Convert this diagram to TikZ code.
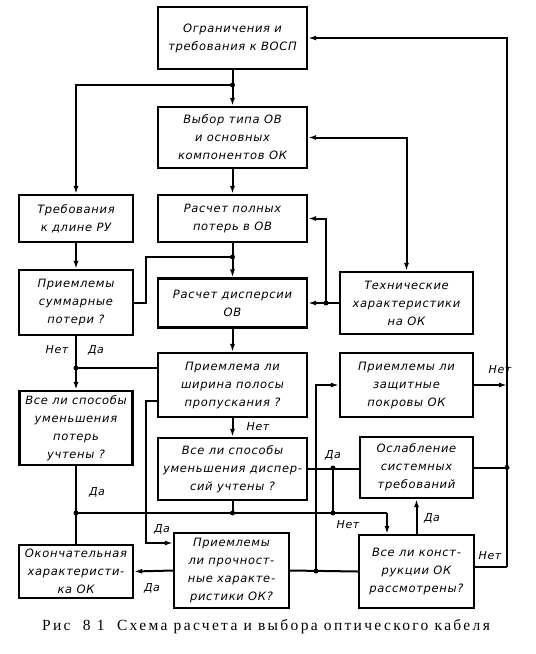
\documentclass[tikz,border=0pt]{standalone}
\usepackage{fontspec}
\setmainfont{Liberation Serif}
\newfontfamily\boxfont[LetterSpace=6]{DejaVu Sans Oblique}
\newfontfamily\capfont[LetterSpace=15]{Liberation Serif}
\usetikzlibrary{arrows.meta}
\begin{document}
\begin{tikzpicture}[x=1pt,y=-1pt,
  box/.style={draw,line width=2.2pt,inner sep=0pt,align=center,
    font=\boxfont\fontsize{11.5}{18}\selectfont},
  line/.style={line width=2pt},
  arr/.style={line width=2pt,-{Latex[length=8pt,width=5pt]}},
  dot/.style={circle,fill,inner sep=0pt,minimum size=5pt},
  lbl/.style={font=\boxfont\fontsize{11}{13}\selectfont}]
\useasboundingbox (0,0) rectangle (536,654);
\node[box,minimum width=149,minimum height=62] (ogr) at (232.5,38) {Ограничения и\\требования к ВОСП};
\node[box,minimum width=149,minimum height=61] (vybor) at (232.5,137.5) {Выбор типа ОВ\\и основных\\компонентов ОК};
\node[box,minimum width=114,minimum height=47] (dlina) at (76,218.5) {Требования\\к длине РУ};
\node[box,minimum width=149,minimum height=47] (poteri) at (232.5,218.5) {Расчет полных\\потерь в ОВ};
\node[box,minimum width=114,minimum height=65] (summ) at (76,302.5) {Приемлемы\\суммарные\\потери ?};
\node[box,minimum width=149,minimum height=49] (disp) at (232.5,303) {Расчет дисперсии\\ОВ};
\node[box,minimum width=133,minimum height=62] (tekh) at (406.5,303) {Технические\\характеристики\\на ОК};
\node[box,minimum width=149,minimum height=64] (polosa) at (232.5,385) {Приемлема ли\\ширина полосы\\пропускания ?};
\node[box,minimum width=133,minimum height=64] (pokr) at (406.5,385) {Приемлемы ли\\защитные\\покровы ОК};
\node[box,minimum width=113,minimum height=74] (vsepot) at (76,428) {Все ли способы\\уменьшения\\потерь\\учтены ?};
\node[box,minimum width=149,minimum height=62] (vsedisp) at (232.5,469) {Все ли способы\\уменьшения диспер-\\сий учтены ?};
\node[box,minimum width=113,minimum height=61] (oslab) at (416.5,467.5) {Ослабление\\системных\\требований};
\node[box,minimum width=114,minimum height=53] (okonch) at (76,571.5) {Окончательная\\характеристи-\\ка ОК};
\node[box,minimum width=115,minimum height=75] (prochn) at (231.5,570.5) {Приемлемы\\ли прочност-\\ные характе-\\ристики ОК?};
\node[box,minimum width=115,minimum height=73] (konstr) at (416.5,571.5) {Все ли конст-\\рукции ОК\\рассмотрены?};

\coordinate (j1) at (232.5,85);
\coordinate (j2) at (232.5,257);
\coordinate (j3) at (326,303);
\coordinate (j4) at (76,368);
\coordinate (j5) at (146,401);
\coordinate (j6) at (146,543);
\coordinate (j7) at (76,513);
\coordinate (j8) at (387,513);
\coordinate (j9) at (333,468);
\coordinate (j10) at (316,385);
\coordinate (j11) at (316,571);
\coordinate (r1) at (507,38);
\coordinate (r2) at (507,567);

\draw[arr] (ogr) -- (vybor);
\draw[arr] (j1) -| (dlina);
\draw[arr] (vybor) -- (poteri);
\draw[arr] (poteri) -- (disp);
\draw[line] (summ.east) -- ++(12,0) |- (j2);
\draw[arr] (j3) |- (poteri.east);
\draw[arr] (tekh.west) -- (disp.east);
\draw[line,{Latex[length=8pt,width=5pt]}-{Latex[length=8pt,width=5pt]}] (vybor.east) -| (tekh.north);
\draw[arr] (dlina) -- (summ);
\draw[arr] (summ) -- (vsepot);
\draw[line] (j4) -- (j4 -| polosa.west);
\draw[arr] (disp) -- (polosa);
\draw[arr] (polosa) -- (vsedisp);
\draw[arr] (j5 -| polosa.west) -- (j5) -- (j6) -- (j6 -| prochn.west);
\draw[line] (vsepot) -- (okonch);
\draw[line] (j7) -- (j8);
\draw[arr] (j8) -- (j8 |- konstr.north);
\draw[line] (vsedisp) -- (vsedisp |- j7);
\draw[line] (vsedisp.east) -- (vsedisp.east -| oslab.west);
\draw[line] (j9) -- (j9 |- j7);
\draw[arr] (j11) -- (j10) -- (pokr.west);
\draw[line] (prochn.east) -- (konstr.west);
\draw[arr] (konstr) -- (oslab);
\draw[arr] (prochn.west) -- (okonch.east);
\draw[arr] (r2) -- (r1) -- (ogr.east);
\draw[line] (konstr.east |- r2) -- (r2);
\draw[arr] (pokr.east) -- (pokr.east -| r1);
\draw[line] (oslab.east) -- (oslab.east -| r1);

\foreach \j in {j1,j2,j3,j4,j7,j9,j11}
  \node[dot] at (\j) {};
\node[dot] at (vsedisp.south |- j7) {};
\node[dot] at (j9 |- j7) {};
\node[dot] at (oslab.east -| r1) {};

\node[lbl] (l1) at (57,350) {Нет};
\node[lbl] (l2) at (96,350) {Да};
\node[lbl] (l3) at (258,427) {Нет};
\node[lbl] (l4) at (162,529) {Да};
\node[lbl] (l5) at (97,492) {Да};
\node[lbl] (l6) at (333,455) {Да};
\node[lbl] (l7) at (348,525) {Нет};
\node[lbl] (l8) at (432,518) {Да};
\node[lbl] (l9) at (152,588) {Да};
\node[lbl] (l10) at (490,556) {Нет};
\node[lbl] (l11) at (500,370) {Нет};

\node[font=\capfont\fontsize{15.5}{17}\selectfont] (cap) at (266,627) {Рис\ \ 8\ 1\ \ Схема\ расчета\ и\ выбора\ оптического\ кабеля};
\end{tikzpicture}
\end{document}
